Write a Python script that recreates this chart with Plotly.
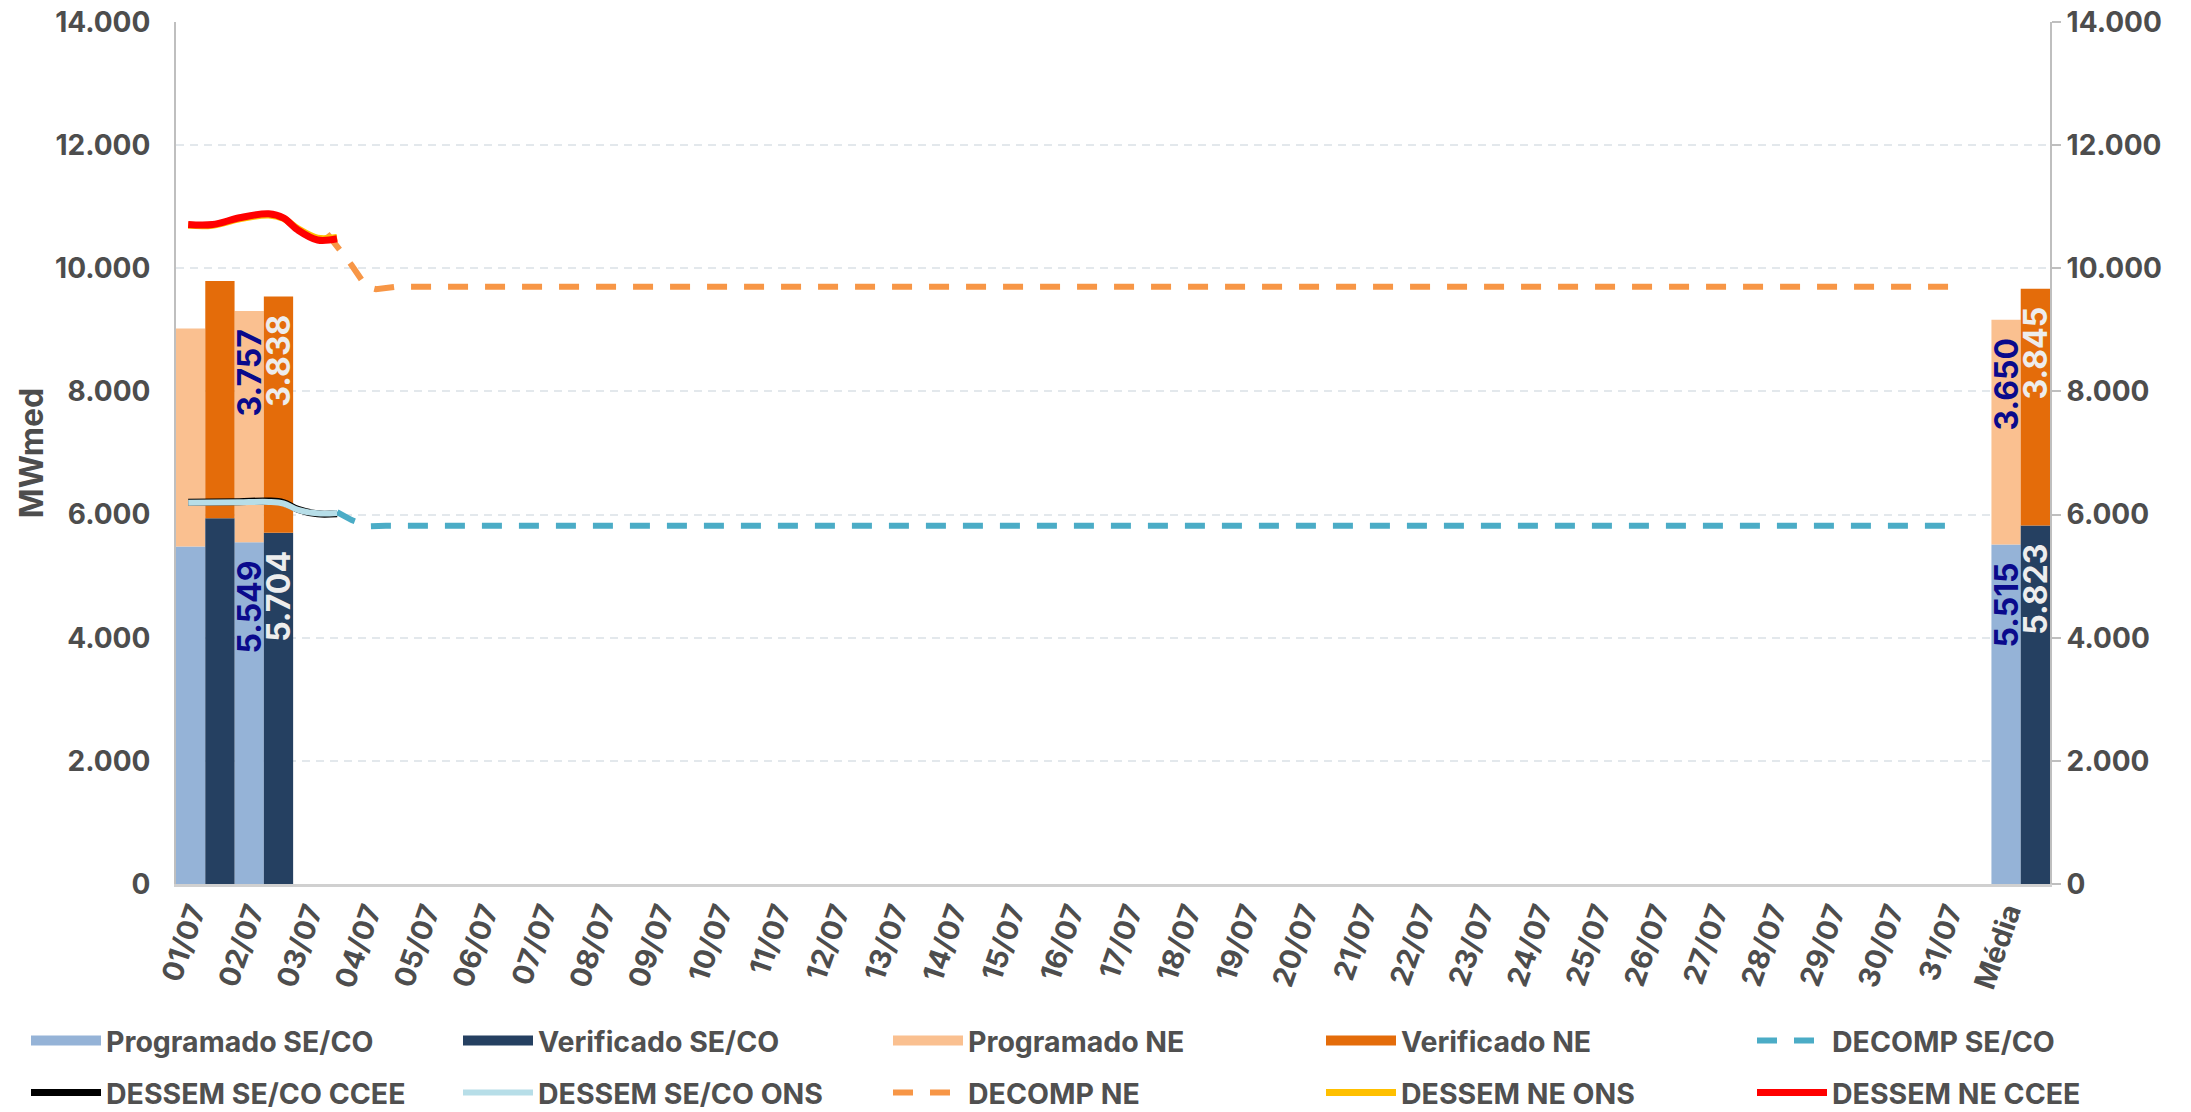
import plotly.graph_objects as go

# ---------------- data ----------------
categories = [f"{d:02d}/07" for d in range(1, 32)] + ["Média"]

bar_cat_index = [0, 1, 31]          # 01/07, 02/07, Média
prog_seco = [5480, 5549, 5515]
verif_seco = [5942, 5704, 5823]
prog_ne = [3543, 3757, 3650]
verif_ne = [3852, 3838, 3845]
show_label = [False, True, True]

# DESSEM (hours since 01/07 00:00)
dessem_hours = [5, 15, 26, 38, 44, 50, 58, 66]
dessem_ne_ccee = [10710, 10710, 10820, 10885, 10820, 10620, 10460, 10480]
dessem_ne_ons = [10700, 10700, 10805, 10865, 10810, 10640, 10490, 10500]
dessem_seco_ons = [6190, 6195, 6200, 6205, 6180, 6075, 6020, 6025]
dessem_seco_ccee = [6200, 6205, 6210, 6220, 6195, 6085, 6012, 6015]

decomp_ne_hours = [62, 72, 78, 82, 90, 727]
decomp_ne = [10560, 10050, 9700, 9660, 9700, 9700]
decomp_seco_hours = [66, 72, 79, 86, 727]
decomp_seco = [6040, 5910, 5810, 5820, 5820]

# ---------------- styles ----------------
C_PROG_SECO = "#95B3D7"
C_VERIF_SECO = "#254061"
C_PROG_NE = "#FAC090"
C_VERIF_NE = "#E46C0A"
C_DECOMP_SECO = "#4BACC6"
C_DECOMP_NE = "#F79646"
C_SECO_CCEE = "#000000"
C_SECO_ONS = "#B7DEE8"
C_NE_ONS = "#FFC000"
C_NE_CCEE = "#FF0000"
TXT = "#4D4D4D"
FONT = "Inter"
LBL_PROG = "#0A0A8C"
LBL_VERIF = "#EDEDED"


def fmt(v):
    return f"{v:,}".replace(",", ".") + "\u00a0\u00a0"


def labels(vals):
    return [fmt(v) if s else "" for v, s in zip(vals, show_label)]


x_prog = [i + 0.25 for i in bar_cat_index]
x_verif = [i + 0.75 for i in bar_cat_index]

fig = go.Figure()

bar_common = dict(width=0.5, textposition="inside", insidetextanchor="end",
                  textangle=-90, constraintext="none", showlegend=False,
                  marker_line_width=0, hoverinfo="skip")

fig.add_trace(go.Bar(x=x_prog, y=prog_seco, marker_color=C_PROG_SECO,
                     text=labels(prog_seco),
                     textfont=dict(family=FONT, size=32, weight=700, color=LBL_PROG),
                     **bar_common))
fig.add_trace(go.Bar(x=x_prog, y=prog_ne, base=prog_seco, marker_color=C_PROG_NE,
                     text=labels(prog_ne),
                     textfont=dict(family=FONT, size=32, weight=700, color=LBL_PROG),
                     **bar_common))
fig.add_trace(go.Bar(x=x_verif, y=verif_seco, marker_color=C_VERIF_SECO,
                     text=labels(verif_seco),
                     textfont=dict(family=FONT, size=32, weight=700, color=LBL_VERIF),
                     **bar_common))
fig.add_trace(go.Bar(x=x_verif, y=verif_ne, base=verif_seco, marker_color=C_VERIF_NE,
                     text=labels(verif_ne),
                     textfont=dict(family=FONT, size=32, weight=700, color=LBL_VERIF),
                     **bar_common))


def hx(hours):
    return [h / 24 for h in hours]


DASH = "20px,17px"
# legend slots: (row, col) -> legend id
LEG = {(r, c): ("legend" if (r, c) == (0, 0) else f"legend{r * 5 + c + 1}")
       for r in range(2) for c in range(5)}

fig.add_trace(go.Scatter(x=hx(decomp_seco_hours), y=decomp_seco, mode="lines",
                         line=dict(color=C_DECOMP_SECO, width=6, dash=DASH),
                         name="DECOMP SE/CO", legend=LEG[(0, 4)]))
fig.add_trace(go.Scatter(x=hx(decomp_ne_hours), y=decomp_ne, mode="lines",
                         line=dict(color=C_DECOMP_NE, width=6, dash=DASH),
                         name="DECOMP NE", legend=LEG[(1, 2)]))
fig.add_trace(go.Scatter(x=hx(dessem_hours), y=dessem_seco_ccee, mode="lines",
                         line=dict(color=C_SECO_CCEE, width=7, shape="spline"),
                         name="DESSEM SE/CO CCEE", legend=LEG[(1, 0)]))
fig.add_trace(go.Scatter(x=hx(dessem_hours), y=dessem_seco_ons, mode="lines",
                         line=dict(color=C_SECO_ONS, width=6, shape="spline"),
                         name="DESSEM SE/CO ONS", legend=LEG[(1, 1)]))
fig.add_trace(go.Scatter(x=hx(dessem_hours), y=dessem_ne_ons, mode="lines",
                         line=dict(color=C_NE_ONS, width=7, shape="spline"),
                         name="DESSEM NE ONS", legend=LEG[(1, 3)]))
fig.add_trace(go.Scatter(x=hx(dessem_hours), y=dessem_ne_ccee, mode="lines",
                         line=dict(color=C_NE_CCEE, width=7, shape="spline"),
                         name="DESSEM NE CCEE", legend=LEG[(1, 4)]))

# legend proxies for bar series (wide rectangles like the original)
for col, (nm, c) in enumerate([("Programado SE/CO", C_PROG_SECO),
                               ("Verificado SE/CO", C_VERIF_SECO),
                               ("Programado NE", C_PROG_NE),
                               ("Verificado NE", C_VERIF_NE)]):
    fig.add_trace(go.Scatter(x=[None], y=[None], mode="lines", name=nm,
                             line=dict(color=c, width=14), legend=LEG[(0, col)]))

# right axis companion (invisible)
fig.add_trace(go.Scatter(x=[None], y=[None], yaxis="y2", showlegend=False))

tickfont = dict(family=FONT, size=28, weight=700, color=TXT)
xtickfont = dict(family=FONT, size=29, weight=700, color=TXT)
legfont = dict(family=FONT, size=28.5, weight=700, color="#505050")

W, H = 2191, 1112
ML, MR, MT, MB = 176, 141, 22, 228
PW, PH = W - ML - MR, H - MT - MB

ITEMW = 70
legend_text_px = [106, 538, 968, 1401, 1832]
legend_row_px = [1041, 1093]
legends = {}
for (r, c), lid in LEG.items():
    legends[lid] = dict(orientation="h", xanchor="left", yanchor="middle",
                        x=(legend_text_px[c] - ITEMW - 10 - ML) / PW,
                        y=(H - MB - legend_row_px[r]) / PH,
                        itemwidth=ITEMW,
                        font=legfont, bgcolor="rgba(0,0,0,0)")

fig.update_layout(
    width=W, height=H,
    margin=dict(l=ML, r=MR, t=MT, b=MB, autoexpand=False),
    paper_bgcolor="white", plot_bgcolor="white",
    barmode="overlay", separators=",.",
    xaxis=dict(range=[0, 32], tickvals=[i + 0.5 for i in range(len(categories))],
               ticktext=categories, tickangle=-71, tickfont=xtickfont,
               ticklabelshift=-13, ticklabelstandoff=-3,
               showgrid=False, zeroline=False, showline=True,
               linecolor="#D0D0D0", linewidth=2.5, ticks=""),
    yaxis=dict(range=[0, 14000], dtick=2000, tickformat=",.0f", tickfont=tickfont,
               showgrid=True, gridcolor="#E3E8EC", gridwidth=2, griddash="8px,6px",
               zeroline=False, showline=True, linecolor="#BFBFBF", linewidth=2,
               ticks="", ticklabelstandoff=18,
               title=dict(text="MWmed", font=dict(family=FONT, size=32, weight=700, color=TXT),
                          standoff=2)),
    yaxis2=dict(range=[0, 14000], dtick=2000, tickformat=",.0f", tickfont=tickfont,
                overlaying="y", side="right", showgrid=False, zeroline=False,
                showline=True, linecolor="#BFBFBF", linewidth=2,
                ticks="outside", ticklen=9, tickcolor="#BFBFBF", tickwidth=2),
    **legends,
)

fig.write_html("out.html", config={"displayModeBar": False},
               post_script="document.body.style.margin='0';")
